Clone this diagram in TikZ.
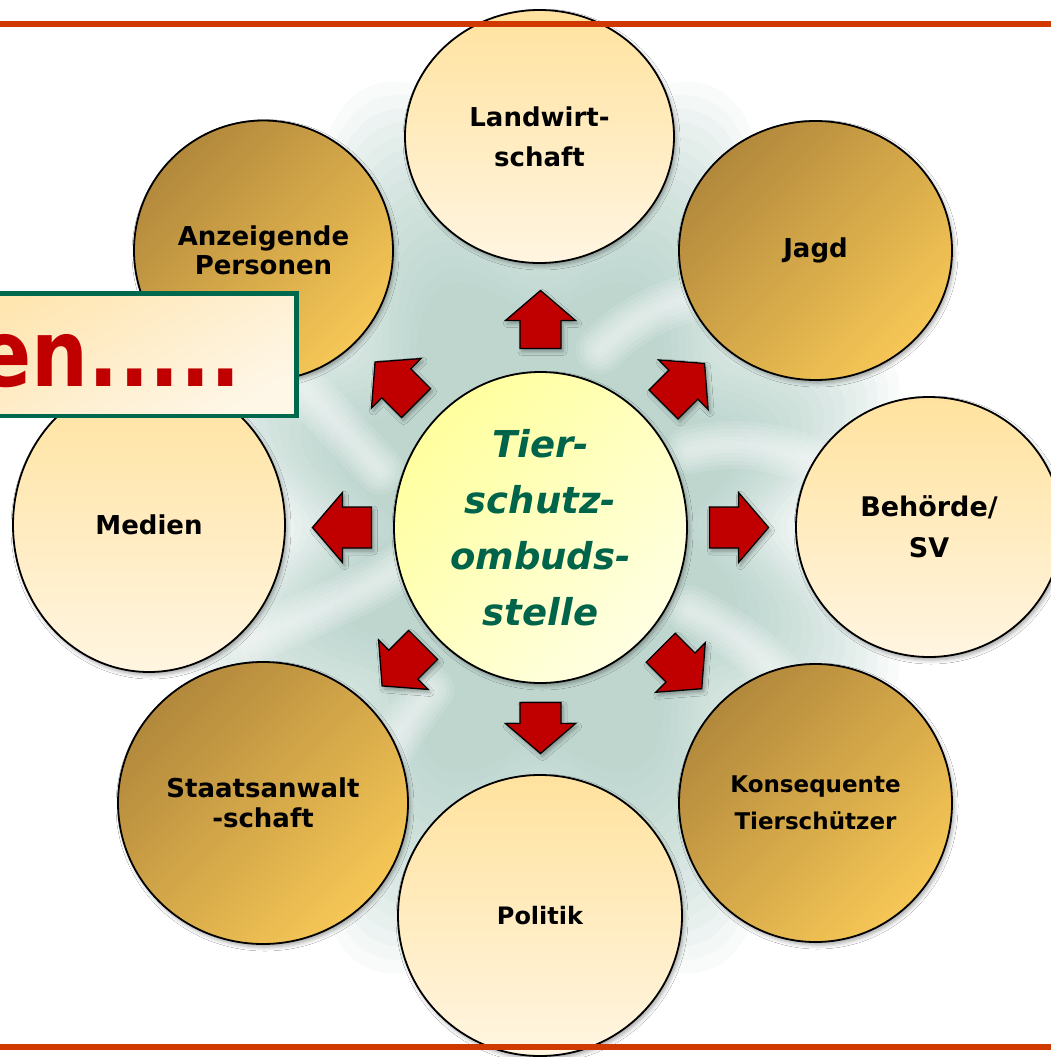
\documentclass[tikz,border=0pt]{standalone}
\usepackage{fontspec}
\usepackage{graphicx}
\setmainfont{DejaVu Sans}[BoldFont={DejaVu Sans Bold},ItalicFont={DejaVu Sans Oblique},BoldItalicFont={DejaVu Sans Bold Oblique}]
\usetikzlibrary{shapes.geometric,shadows.blur}
\definecolor{lineRed}{RGB}{208,58,0}
\definecolor{arrowRed}{RGB}{192,0,0}
\definecolor{lightTop}{RGB}{255,226,158}
\definecolor{lightBot}{RGB}{255,245,225}
\definecolor{darkTL}{RGB}{178,136,60}
\definecolor{darkBR}{RGB}{246,199,86}
\definecolor{ctrTL}{RGB}{255,255,158}
\definecolor{ctrBR}{RGB}{255,255,226}
\definecolor{ctrText}{RGB}{0,100,74}
\definecolor{boxBorder}{RGB}{0,105,77}
\definecolor{boxTL}{RGB}{255,228,172}
\definecolor{boxBR}{RGB}{254,246,230}
\definecolor{bgTeal}{RGB}{166,201,190}
\tikzset{
  softshadow/.style={blur shadow={shadow xshift=2pt, shadow yshift=-3pt, shadow blur radius=4pt, shadow opacity=35}},
  bubble/.style={ellipse, draw=black, line width=1.8pt, inner sep=0pt, align=center,
    font=\bfseries\fontsize{26}{29}\selectfont, softshadow},
  lightb/.style={bubble, top color=lightTop, bottom color=lightBot},
  darkb/.style={bubble, top color=darkTL, bottom color=darkBR, shading angle=45},
  ctrb/.style={bubble, top color=ctrTL, bottom color=ctrBR, shading angle=45, text=ctrText,
    font=\bfseries\itshape\fontsize{37}{56}\selectfont},
  arrowstyle/.style={fill=arrowRed, draw=black, line width=1.3pt, line join=miter, softshadow},
  redline/.style={draw=lineRed, line width=6pt},
  streakstyle/.style={draw=white, line cap=round, opacity=0.12},
  pics/blockarrow/.style args={#1/#2/#3}{code={
    \draw[arrowstyle, rotate=#1] ({#2-#3},-20.5) -- ({#2-30},-20.5) -- ({#2-30},-35) -- (#2,0)
      -- ({#2-30},35) -- ({#2-30},20.5) -- ({#2-#3},20.5) -- cycle;
  }}
}
\begin{document}
\begin{tikzpicture}[x=1pt,y=-1pt]
\useasboundingbox (0,0) rectangle (1051,1057);
\fill[white] (0,0) rectangle (1051,1057);
% background glow
\coordinate (O) at (540.5,527.5);
\foreach \s in {1.0,0.97,...,0.53}{
  \fill[bgTeal, opacity=0.065, shift={(O)}, scale=\s]
    plot[domain=0:360, samples=97, smooth] ({(380-50*cos(8*\x)-60*cos(2*\x))*cos(\x)}, {(380-50*cos(8*\x)-60*cos(2*\x))*sin(\x)}) -- cycle;
}
% soft white streaks in the glow
\foreach \w in {48,40,32,24,16,8}{
  \draw[streakstyle, line width=\w pt] (250,640) .. controls (320,610) and (370,590) .. (410,560);
  \draw[streakstyle, line width=\w pt] (280,370) .. controls (320,400) and (350,440) .. (380,470);
  \draw[streakstyle, line width=\w pt] (600,350) .. controls (630,320) and (660,305) .. (700,295);
  \draw[streakstyle, line width=\w pt] (690,450) .. controls (730,440) and (770,445) .. (810,460);
  \draw[streakstyle, line width=\w pt] (690,610) .. controls (730,630) and (760,650) .. (790,690);
  \draw[streakstyle, line width=\w pt] (430,690) .. controls (400,730) and (380,760) .. (370,800);
}
% outer circles
\node[lightb, minimum width=269pt, minimum height=253pt, font=\bfseries\fontsize{26}{40}\selectfont] (land) at (539.5,136.5) {Landwirt-\\schaft};
\node[darkb, minimum width=273pt, minimum height=259pt] (jagd) at (815.5,250.5) {Jagd};
\node[lightb, minimum width=266pt, minimum height=260pt, font=\bfseries\fontsize{27}{41}\selectfont] (beh) at (929,527) {Behörde/\\SV};
\node[darkb, minimum width=273pt, minimum height=278pt, font=\bfseries\fontsize{23}{37}\selectfont] (kons) at (815.5,803) {Konsequente\\Tierschützer};
\node[lightb, minimum width=284pt, minimum height=281pt, font=\bfseries\fontsize{24}{29}\selectfont] (pol) at (540,915.5) {Politik};
\node[darkb, minimum width=290pt, minimum height=282pt, font=\bfseries\fontsize{26}{30}\selectfont] (staat) at (263,803) {Staatsanwalt\\-schaft};
\node[lightb, minimum width=272pt, minimum height=294pt] (med) at (149,525) {Medien};
\node[darkb, minimum width=259pt, minimum height=260pt] (anz) at (263.5,250.5) {Anzeigende\\Personen};
% centre
\node[ctrb, minimum width=293pt, minimum height=311pt] (ctr) at (O) {Tier-\\schutz-\\ombuds-\\stelle};
% arrows
\pic at (ctr.center) {blockarrow=90/237/58};
\pic at (ctr.center) {blockarrow=0/228/59};
\pic at (ctr.center) {blockarrow=180/228/59};
\pic at (ctr.center) {blockarrow=270/226/51};
\pic at (ctr.center) {blockarrow=45/232/58};
\pic at (ctr.center) {blockarrow=135/234/58};
\pic at (ctr.center) {blockarrow=225/224/58};
\pic at (ctr.center) {blockarrow=315/228/58};
% title box
\node[draw=boxBorder, line width=4.5pt, top color=boxTL, bottom color=boxBR, shading angle=30,
  minimum width=380pt, minimum height=122.5pt, inner sep=0pt, anchor=north east] (box) at (298.75,291.25) {};
\node[anchor=base east, inner sep=0pt, text=arrowRed, font=\bfseries\fontsize{93}{100}\selectfont] (boxlbl) at (241,386) {\scalebox{0.86}[1]{en.....}};
% red rules
\coordinate (tl) at (0,24); \coordinate (tr) at (1051,24);
\coordinate (bl) at (0,1047); \coordinate (br) at (1051,1047);
\draw[redline] (tl) -- (tr);
\draw[redline] (bl) -- (br);
\end{tikzpicture}
\end{document}
